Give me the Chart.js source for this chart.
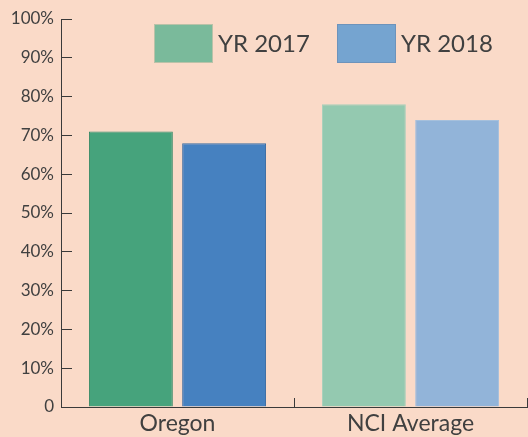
<!DOCTYPE html>
<html>
<head>
<meta charset="utf-8">
<script src="https://cdn.jsdelivr.net/npm/chart.js@4/dist/chart.umd.min.js"></script>
<style>
  html, body { margin: 0; padding: 0; background: #fadac8; }
  #wrap { width: 528px; height: 437px; }
</style>
</head>
<body>
<div id="wrap"><canvas id="graphCanvas" width="528" height="437"></canvas></div>
<script>
// Données du graphique
const categories = ['Oregon', 'NCI Average'];
const seriesLabels = ['YR 2017', 'YR 2018'];
const yr2017 = [71, 78];
const yr2018 = [68, 74];
const yTickLabels = ['0', '10%', '20%', '30%', '40%', '50%', '60%', '70%', '80%', '90%', '100%'];

// Couleurs
const fill2017 = ['#46a37c', '#94c9b0'];
const border2017 = ['#3b8a68', '#a9cfbb'];
const fill2018 = ['#4681c0', '#92b4d9'];
const border2018 = ['#3a6ca3', '#a6c0dc'];
const legendFill = ['#7aba9b', '#75a4d0'];
const legendBorder = ['#b9c2a8', '#6d93bb'];
const textColor = '#404040';
const axisColor = '#3a3a3a';

// Légende dessinée à l'intérieur de la zone du graphique
const insideLegend = {
    id: 'insideLegend',
    afterDraw(chart) {
        const ctx = chart.ctx;
        const boxX = [154, 337];
        const boxW = 59, boxH = 39, boxY = 24;
        ctx.save();
        ctx.font = '24px Lato';
        ctx.textBaseline = 'middle';
        ctx.textAlign = 'left';
        chart.data.datasets.forEach((ds, i) => {
            ctx.fillStyle = legendFill[i];
            ctx.fillRect(boxX[i], boxY, boxW, boxH);
            ctx.strokeStyle = legendBorder[i];
            ctx.lineWidth = 1;
            ctx.strokeRect(boxX[i] + 0.5, boxY + 0.5, boxW - 1, boxH - 1);
            ctx.fillStyle = textColor;
            ctx.fillText(ds.label, boxX[i] + boxW + 5, boxY + boxH / 2 + 1);
        });
        ctx.restore();
    }
};

const ctx = document.getElementById('graphCanvas').getContext('2d');
const chart = new Chart(ctx, {
    type: 'bar',
    data: {
        labels: categories,
        datasets: [{
            label: seriesLabels[0],
            data: yr2017,
            backgroundColor: fill2017,
            borderColor: border2017,
            borderWidth: 1
        }, {
            label: seriesLabels[1],
            data: yr2018,
            backgroundColor: fill2018,
            borderColor: border2018,
            borderWidth: 1
        }]
    },
    options: {
        responsive: false,
        animation: false,
        layout: { padding: { top: 19, right: 1, left: 0, bottom: 0 } },
        plugins: {
            legend: { display: false },
            tooltip: { enabled: false }
        },
        scales: {
            x: {
                grid: {
                    drawOnChartArea: false,
                    drawTicks: true,
                    tickLength: -9,
                    color: axisColor
                },
                border: { color: axisColor, width: 1 },
                ticks: {
                    color: textColor,
                    font: { family: 'Lato', size: 23 },
                    padding: 12
                },
                afterFit: (scale) => { scale.height = 30; }
            },
            y: {
                min: 0,
                max: 100,
                grid: {
                    drawOnChartArea: false,
                    drawTicks: true,
                    tickLength: -11,
                    color: axisColor
                },
                border: { color: axisColor, width: 1 },
                ticks: {
                    stepSize: 10,
                    color: textColor,
                    font: { family: 'Lato', size: 17 },
                    padding: 18,
                    callback: (v, i) => yTickLabels[i]
                },
                afterFit: (scale) => {
                    scale.width = 61;
                    // tick padding sert au décalage horizontal seulement
                    scale.paddingTop = 0;
                    scale.paddingBottom = 0;
                }
            }
        }
    },
    plugins: [insideLegend]
});
</script>
</body>
</html>
